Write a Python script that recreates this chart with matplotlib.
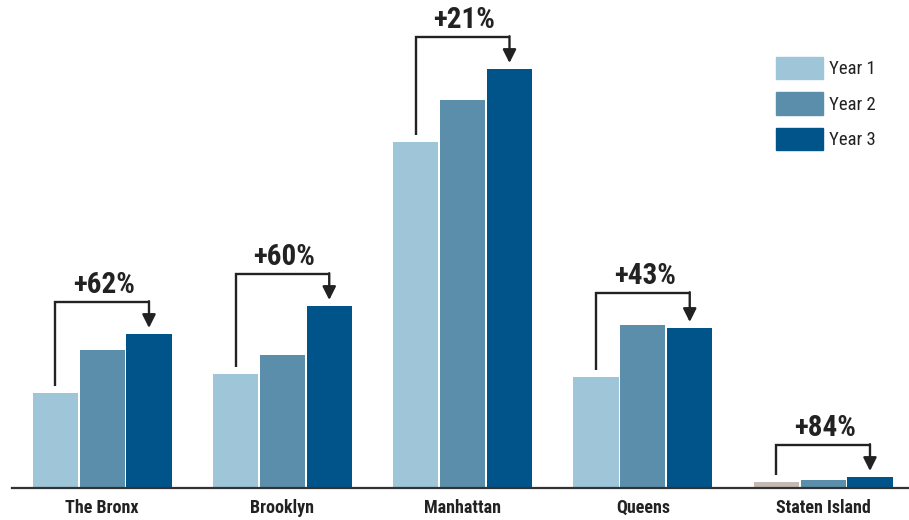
import matplotlib.pyplot as plt
from matplotlib.patches import Patch

# borough totals per year (relative units)
boroughs = ['The Bronx', 'Brooklyn', 'Manhattan', 'Queens', 'Staten Island']
year1 = [95, 114, 346, 111, 6]
year2 = [138, 133, 388, 163, 8]
year3 = [154, 182, 419, 160, 11]
growth_labels = ['+62%', '+60%', '+21%', '+43%', '+84%']
series_names = ['Year 1', 'Year 2', 'Year 3']

colors = ['#9fc5d9', '#5b8eab', '#00548a']
staten_y1_color = '#c4b9b5'
ink = '#222222'

plt.rcParams['font.family'] = ['Roboto Condensed', 'Roboto', 'DejaVu Sans']

fig = plt.figure(figsize=(9.09, 5.20), dpi=100)
ax = fig.add_axes([12 / 909, 32 / 520, 897 / 909, 488 / 520])

x = list(range(len(boroughs)))
width = 0.25
step = 0.26

y1_colors = [colors[0]] * (len(boroughs) - 1) + [staten_y1_color]
ax.bar([i - step for i in x], year1, width, color=y1_colors)
ax.bar(x, year2, width, color=colors[1])
ax.bar([i + step for i in x], year3, width, color=colors[2])

# growth brackets from year 1 to year 3
for i, label in enumerate(growth_labels):
    top = max(year1[i], year2[i], year3[i]) + 32
    x1 = i - step
    x3 = i + step
    ax.plot([x1, x1, x3], [year1[i] + 7, top, top], color=ink, lw=1.7,
            solid_joinstyle='miter', solid_capstyle='butt')
    ax.annotate('', xy=(x3, year3[i] + 6), xytext=(x3, top + 0.8),
                arrowprops=dict(arrowstyle='-|>', color=ink, lw=1.7,
                                mutation_scale=20, shrinkA=0, shrinkB=0))
    ax.text(i + 0.01, top + 3, label, ha='center', va='bottom',
            fontsize=21, fontweight='bold', color=ink)

ax.set_xlim(-0.5, -0.5 + 897 / 180.25)
ax.set_ylim(0, 488)
ax.set_xticks(x)
ax.set_xticklabels(boroughs, fontsize=13, fontweight='bold', color=ink)
ax.tick_params(axis='x', length=0, pad=8)
ax.set_yticks([])
for side in ['top', 'right', 'left']:
    ax.spines[side].set_visible(False)
ax.spines['bottom'].set_color('#333333')
ax.spines['bottom'].set_linewidth(1.6)

handles = [Patch(color=c) for c in colors]
ax.legend(handles, series_names, loc='upper left', bbox_to_anchor=(0.833, 0.918),
          frameon=False, fontsize=13.5, handlelength=2.5, handleheight=1.45,
          handletextpad=0.3, labelspacing=0.7, labelcolor=ink)

fig.savefig('out.png', dpi=100)
